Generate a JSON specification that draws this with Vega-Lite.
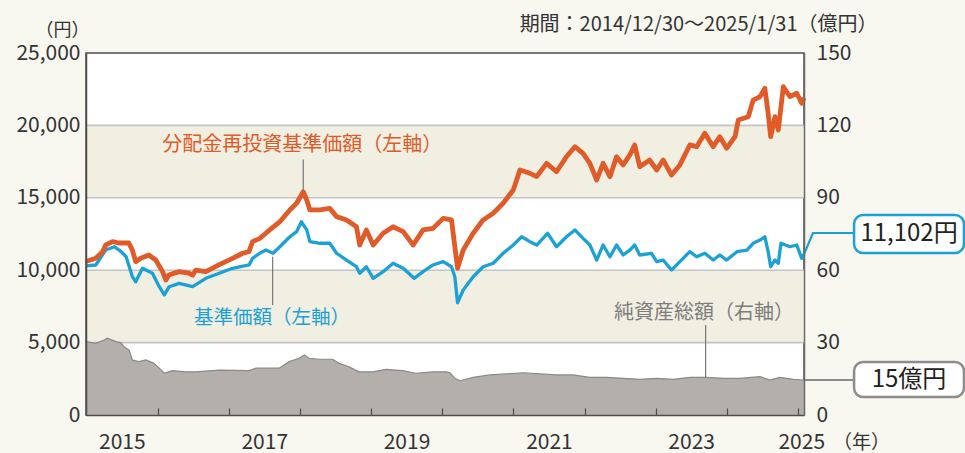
{
  "$schema": "https://vega.github.io/schema/vega-lite/v6.json",
  "width": 718,
  "height": 362,
  "autosize": "none",
  "padding": {"left": 86, "top": 53, "right": 161, "bottom": 38},
  "background": "#f8f7f0",
  "config": {
    "font": "Noto Sans CJK JP",
    "view": {"fill": "#ffffff", "stroke": "#4d4d4d", "strokeWidth": 1.5}
  },
  "datasets": {
    "bands": [{"lo": 5000, "hi": 10000}, {"lo": 15000, "hi": 20000}],
    "grid": [{"v": 5000}, {"v": 10000}, {"v": 15000}, {"v": 20000}],
    "orange": [
      {"date": "2014-12-30", "v": 10600},
      {"date": "2015-02-18", "v": 10820},
      {"date": "2015-03-25", "v": 11280},
      {"date": "2015-04-10", "v": 11740},
      {"date": "2015-05-15", "v": 11970},
      {"date": "2015-06-16", "v": 11880},
      {"date": "2015-08-07", "v": 11880},
      {"date": "2015-08-25", "v": 11390},
      {"date": "2015-09-11", "v": 10590},
      {"date": "2015-10-07", "v": 10820},
      {"date": "2015-11-17", "v": 11050},
      {"date": "2015-12-23", "v": 10700},
      {"date": "2016-01-27", "v": 9900},
      {"date": "2016-02-13", "v": 9320},
      {"date": "2016-02-28", "v": 9670},
      {"date": "2016-04-20", "v": 9900},
      {"date": "2016-06-10", "v": 9800},
      {"date": "2016-06-29", "v": 9650},
      {"date": "2016-07-16", "v": 10010},
      {"date": "2016-09-05", "v": 9900},
      {"date": "2016-11-11", "v": 10360},
      {"date": "2017-01-20", "v": 10820},
      {"date": "2017-03-13", "v": 11170},
      {"date": "2017-04-14", "v": 11280},
      {"date": "2017-05-03", "v": 11970},
      {"date": "2017-06-09", "v": 12200},
      {"date": "2017-07-10", "v": 12550},
      {"date": "2017-07-30", "v": 12780},
      {"date": "2017-09-20", "v": 13350},
      {"date": "2017-11-10", "v": 14160},
      {"date": "2017-12-15", "v": 14620},
      {"date": "2018-01-18", "v": 15420},
      {"date": "2018-02-05", "v": 14850},
      {"date": "2018-02-21", "v": 14160},
      {"date": "2018-04-13", "v": 14160},
      {"date": "2018-06-03", "v": 14270},
      {"date": "2018-07-08", "v": 13700},
      {"date": "2018-08-28", "v": 13470},
      {"date": "2018-10-18", "v": 13000},
      {"date": "2018-11-04", "v": 11740},
      {"date": "2018-12-08", "v": 12780},
      {"date": "2019-01-12", "v": 11740},
      {"date": "2019-03-04", "v": 12550},
      {"date": "2019-04-24", "v": 13000},
      {"date": "2019-06-15", "v": 12660},
      {"date": "2019-08-05", "v": 11740},
      {"date": "2019-09-25", "v": 12780},
      {"date": "2019-11-15", "v": 12890},
      {"date": "2020-01-06", "v": 13580},
      {"date": "2020-02-18", "v": 13470},
      {"date": "2020-03-06", "v": 11620},
      {"date": "2020-03-20", "v": 10130},
      {"date": "2020-04-18", "v": 11390},
      {"date": "2020-06-08", "v": 12550},
      {"date": "2020-07-29", "v": 13470},
      {"date": "2020-09-19", "v": 13930},
      {"date": "2020-11-09", "v": 14620},
      {"date": "2020-12-31", "v": 15540},
      {"date": "2021-02-03", "v": 16920},
      {"date": "2021-03-26", "v": 16690},
      {"date": "2021-04-30", "v": 16460},
      {"date": "2021-06-20", "v": 17380},
      {"date": "2021-08-10", "v": 16800},
      {"date": "2021-09-30", "v": 17840},
      {"date": "2021-11-12", "v": 18530},
      {"date": "2021-12-24", "v": 18070},
      {"date": "2022-01-28", "v": 17380},
      {"date": "2022-03-04", "v": 16230},
      {"date": "2022-04-06", "v": 17380},
      {"date": "2022-05-11", "v": 16460},
      {"date": "2022-06-14", "v": 17840},
      {"date": "2022-07-18", "v": 17270},
      {"date": "2022-08-21", "v": 17960},
      {"date": "2022-09-15", "v": 18650},
      {"date": "2022-10-11", "v": 17150},
      {"date": "2022-12-01", "v": 17610},
      {"date": "2023-01-06", "v": 16920},
      {"date": "2023-02-08", "v": 17610},
      {"date": "2023-03-23", "v": 16570},
      {"date": "2023-05-05", "v": 17270},
      {"date": "2023-06-25", "v": 18650},
      {"date": "2023-07-30", "v": 18530},
      {"date": "2023-09-10", "v": 19450},
      {"date": "2023-10-23", "v": 18530},
      {"date": "2023-11-26", "v": 19220},
      {"date": "2023-12-31", "v": 18420},
      {"date": "2024-02-12", "v": 19220},
      {"date": "2024-02-29", "v": 20370},
      {"date": "2024-04-20", "v": 20600},
      {"date": "2024-05-15", "v": 21750},
      {"date": "2024-06-19", "v": 21980},
      {"date": "2024-07-14", "v": 22560},
      {"date": "2024-07-31", "v": 20840},
      {"date": "2024-08-13", "v": 19220},
      {"date": "2024-09-04", "v": 20600},
      {"date": "2024-09-21", "v": 19680},
      {"date": "2024-10-17", "v": 22670},
      {"date": "2024-11-20", "v": 21980},
      {"date": "2024-12-25", "v": 22220},
      {"date": "2025-01-19", "v": 21530},
      {"date": "2025-01-31", "v": 21900}
    ],
    "blue": [
      {"date": "2014-12-30", "v": 10300},
      {"date": "2015-02-18", "v": 10360},
      {"date": "2015-04-10", "v": 11390},
      {"date": "2015-05-25", "v": 11620},
      {"date": "2015-06-28", "v": 11280},
      {"date": "2015-07-24", "v": 10930},
      {"date": "2015-08-25", "v": 9550},
      {"date": "2015-09-11", "v": 9200},
      {"date": "2015-10-16", "v": 10130},
      {"date": "2015-12-06", "v": 9790},
      {"date": "2016-01-10", "v": 8860},
      {"date": "2016-02-05", "v": 8290},
      {"date": "2016-03-01", "v": 8860},
      {"date": "2016-04-21", "v": 9090},
      {"date": "2016-06-29", "v": 8860},
      {"date": "2016-09-05", "v": 9440},
      {"date": "2016-11-13", "v": 9790},
      {"date": "2017-01-20", "v": 10130},
      {"date": "2017-04-15", "v": 10360},
      {"date": "2017-05-03", "v": 10820},
      {"date": "2017-06-09", "v": 11170},
      {"date": "2017-07-10", "v": 11390},
      {"date": "2017-08-16", "v": 11170},
      {"date": "2017-09-20", "v": 11620},
      {"date": "2017-11-10", "v": 12310},
      {"date": "2017-12-15", "v": 12660},
      {"date": "2018-01-08", "v": 13350},
      {"date": "2018-02-05", "v": 12780},
      {"date": "2018-02-21", "v": 11970},
      {"date": "2018-04-13", "v": 11860},
      {"date": "2018-06-03", "v": 11860},
      {"date": "2018-07-08", "v": 11170},
      {"date": "2018-08-28", "v": 10700},
      {"date": "2018-10-18", "v": 10240},
      {"date": "2018-11-04", "v": 9790},
      {"date": "2018-12-08", "v": 10240},
      {"date": "2019-01-12", "v": 9440},
      {"date": "2019-03-04", "v": 9900},
      {"date": "2019-04-24", "v": 10480},
      {"date": "2019-06-15", "v": 10130},
      {"date": "2019-08-10", "v": 9440},
      {"date": "2019-09-25", "v": 9900},
      {"date": "2019-11-15", "v": 10360},
      {"date": "2020-01-06", "v": 10590},
      {"date": "2020-02-18", "v": 10240},
      {"date": "2020-03-06", "v": 9550},
      {"date": "2020-03-20", "v": 7750},
      {"date": "2020-04-18", "v": 8630},
      {"date": "2020-06-08", "v": 9550},
      {"date": "2020-07-29", "v": 10240},
      {"date": "2020-09-19", "v": 10480},
      {"date": "2020-11-09", "v": 11170},
      {"date": "2020-12-31", "v": 11740},
      {"date": "2021-02-12", "v": 12310},
      {"date": "2021-03-26", "v": 11970},
      {"date": "2021-04-30", "v": 11740},
      {"date": "2021-06-25", "v": 12550},
      {"date": "2021-08-10", "v": 11620},
      {"date": "2021-09-30", "v": 12310},
      {"date": "2021-11-12", "v": 12780},
      {"date": "2021-12-24", "v": 12200},
      {"date": "2022-01-28", "v": 11740},
      {"date": "2022-03-04", "v": 10700},
      {"date": "2022-04-06", "v": 11740},
      {"date": "2022-05-11", "v": 10930},
      {"date": "2022-06-14", "v": 11740},
      {"date": "2022-07-18", "v": 11050},
      {"date": "2022-08-21", "v": 11390},
      {"date": "2022-09-15", "v": 11740},
      {"date": "2022-10-11", "v": 11050},
      {"date": "2022-12-10", "v": 11170},
      {"date": "2023-01-06", "v": 10590},
      {"date": "2023-02-08", "v": 10700},
      {"date": "2023-03-23", "v": 10010},
      {"date": "2023-05-05", "v": 10590},
      {"date": "2023-06-25", "v": 11280},
      {"date": "2023-07-30", "v": 10930},
      {"date": "2023-09-10", "v": 11170},
      {"date": "2023-10-23", "v": 10700},
      {"date": "2023-11-26", "v": 11050},
      {"date": "2023-12-31", "v": 10700},
      {"date": "2024-02-22", "v": 11280},
      {"date": "2024-04-13", "v": 11390},
      {"date": "2024-05-15", "v": 11860},
      {"date": "2024-06-19", "v": 12080},
      {"date": "2024-07-14", "v": 12310},
      {"date": "2024-07-31", "v": 11280},
      {"date": "2024-08-13", "v": 10240},
      {"date": "2024-09-04", "v": 10700},
      {"date": "2024-09-21", "v": 10480},
      {"date": "2024-10-05", "v": 11860},
      {"date": "2024-11-20", "v": 11620},
      {"date": "2024-12-25", "v": 11740},
      {"date": "2025-01-19", "v": 10820},
      {"date": "2025-01-31", "v": 11102}
    ],
    "aum": [
      {"date": "2014-12-30", "v": 30.4},
      {"date": "2015-02-18", "v": 29.7},
      {"date": "2015-04-02", "v": 31.1},
      {"date": "2015-04-19", "v": 31.8},
      {"date": "2015-06-01", "v": 30.4},
      {"date": "2015-06-26", "v": 30.0},
      {"date": "2015-07-13", "v": 28.3},
      {"date": "2015-08-08", "v": 26.9},
      {"date": "2015-08-25", "v": 22.8},
      {"date": "2015-09-28", "v": 22.1},
      {"date": "2015-11-02", "v": 22.8},
      {"date": "2015-12-14", "v": 21.4},
      {"date": "2016-01-10", "v": 19.4},
      {"date": "2016-02-05", "v": 17.3},
      {"date": "2016-03-18", "v": 18.4},
      {"date": "2016-05-25", "v": 17.9},
      {"date": "2016-07-16", "v": 17.9},
      {"date": "2016-11-13", "v": 18.6},
      {"date": "2017-04-15", "v": 18.4},
      {"date": "2017-05-20", "v": 19.4},
      {"date": "2017-09-16", "v": 19.4},
      {"date": "2017-11-07", "v": 22.1},
      {"date": "2017-12-28", "v": 23.5},
      {"date": "2018-01-23", "v": 24.9},
      {"date": "2018-02-17", "v": 23.5},
      {"date": "2018-04-10", "v": 23.1},
      {"date": "2018-06-17", "v": 23.1},
      {"date": "2018-07-21", "v": 21.4},
      {"date": "2018-09-10", "v": 20.0},
      {"date": "2018-10-31", "v": 17.9},
      {"date": "2019-01-09", "v": 17.9},
      {"date": "2019-03-18", "v": 18.9},
      {"date": "2019-06-12", "v": 18.4},
      {"date": "2019-08-19", "v": 17.3},
      {"date": "2019-11-13", "v": 17.9},
      {"date": "2020-01-20", "v": 17.9},
      {"date": "2020-02-10", "v": 17.5},
      {"date": "2020-03-06", "v": 15.2},
      {"date": "2020-04-01", "v": 14.2},
      {"date": "2020-06-08", "v": 15.6},
      {"date": "2020-09-02", "v": 16.6},
      {"date": "2020-11-26", "v": 17.0},
      {"date": "2021-02-20", "v": 17.5},
      {"date": "2021-05-16", "v": 17.0},
      {"date": "2021-08-10", "v": 16.6},
      {"date": "2021-11-02", "v": 16.6},
      {"date": "2022-01-28", "v": 15.6},
      {"date": "2022-04-24", "v": 15.6},
      {"date": "2022-07-18", "v": 15.2},
      {"date": "2022-10-11", "v": 14.8},
      {"date": "2023-01-06", "v": 15.2},
      {"date": "2023-04-01", "v": 14.8},
      {"date": "2023-06-25", "v": 15.6},
      {"date": "2023-09-18", "v": 15.6},
      {"date": "2023-12-13", "v": 15.2},
      {"date": "2024-03-08", "v": 15.2},
      {"date": "2024-06-19", "v": 15.9},
      {"date": "2024-08-09", "v": 14.5},
      {"date": "2024-09-29", "v": 15.6},
      {"date": "2024-12-07", "v": 14.8},
      {"date": "2025-01-27", "v": 14.5},
      {"date": "2025-01-31", "v": 14.8}
    ],
    "annAum": [{"date": "2023-09-06", "v": 42.3, "label": "純資産総額（右軸）"}],
    "leadAum": [{"date": "2023-09-14", "v": 37.3, "v2": 15.7}],
    "boxAum": [{"date": "2025-10-15", "date2": "2027-05-02", "v": 7.5, "v2": 22.0}],
    "linkAum": [{"date": "2025-01-31", "date2": "2025-10-15", "v": 14.5}],
    "calloutAum": [{"date": "2026-07-24", "v": 14.7, "label": "15億円"}],
    "annOrange": [{"date": "2018-01-13", "v": 18650, "label": "分配金再投資基準価額（左軸）"}],
    "leadOrange": [{"date": "2018-01-18", "v": 17650, "v2": 15500}],
    "annBlue": [{"date": "2017-08-11", "v": 6700, "label": "基準価額（左軸）"}],
    "leadBlue": [{"date": "2017-08-14", "v": 10930, "v2": 7600}],
    "linkBlue": [
      {"date": "2025-01-31", "v": 11102},
      {"date": "2025-03-18", "v": 12570},
      {"date": "2025-10-15", "v": 12570}
    ],
    "boxBlue": [{"date": "2025-10-15", "date2": "2027-05-02", "v": 11190, "v2": 13810}],
    "calloutBlue": [{"date": "2026-07-24", "v": 12500, "label": "11,102円"}]
  },
  "layer": [
    {
      "layer": [
        {
          "data": {"name": "bands"},
          "mark": {"type": "rect", "color": "#f1eee2"},
          "encoding": {
            "y": {"field": "lo", "type": "quantitative", "scale": {"domain": [0, 25000], "nice": false}, "axis": null},
            "y2": {"field": "hi"}
          }
        },
        {
          "data": {"name": "grid"},
          "mark": {"type": "rule", "color": "#c4c4c4", "strokeWidth": 1.6},
          "encoding": {
            "y": {"field": "v", "type": "quantitative", "scale": {"domain": [0, 25000], "nice": false}, "axis": null}
          }
        }
      ]
    },
    {
      "encoding": {
        "x": {
          "field": "date",
          "type": "temporal",
          "scale": {"domain": [{"year": 2014, "month": 12, "date": 30}, {"year": 2025, "month": 1, "date": 31}], "nice": false},
          "axis": {
            "orient": "bottom",
            "values": [
              {"year": 2015, "month": 7, "date": 2},
              {"year": 2017, "month": 7, "date": 2},
              {"year": 2019, "month": 7, "date": 2},
              {"year": 2021, "month": 7, "date": 2},
              {"year": 2023, "month": 7, "date": 2},
              {"year": 2025, "month": 1, "date": 17}
            ],
            "format": "%Y",
            "ticks": false,
            "domain": false,
            "grid": false,
            "labelFlush": false,
            "labelOverlap": false,
            "labelFontSize": 21,
            "labelColor": "#333333",
            "labelPadding": 16,
            "title": "（年）",
            "titleX": 775,
            "titleY": 27,
            "titleAlign": "center",
            "titleBaseline": "middle",
            "titleFontSize": 19,
            "titleFontWeight": "normal",
            "titleColor": "#333333"
          }
        },
        "y": {
          "field": "v",
          "type": "quantitative",
          "scale": {"domain": [0, 150], "nice": false},
          "axis": {
            "orient": "right",
            "values": [0, 30, 60, 90, 120, 150],
            "ticks": false,
            "domain": true,
            "domainColor": "#6a6a6a",
            "domainWidth": 1.5,
            "grid": false,
            "labelFontSize": 21,
            "labelColor": "#333333",
            "labelPadding": 12,
            "title": "期間：2014/12/30～2025/1/31（億円）",
            "titleAngle": 0,
            "titleX": 73,
            "titleY": -29,
            "titleAlign": "right",
            "titleBaseline": "middle",
            "titleFontSize": 20,
            "titleFontWeight": "normal",
            "titleColor": "#333333",
            "zindex": 1
          }
        }
      },
      "layer": [
        {
          "data": {"name": "aum"},
          "mark": {"type": "area", "color": "#b3afaa", "opacity": 1, "line": {"color": "#8d8883", "strokeWidth": 1.2}}
        },
        {
          "data": {"name": "annAum"},
          "mark": {"type": "text", "color": "#7d7d7d", "fontSize": 20, "align": "center", "baseline": "middle"},
          "encoding": {"text": {"field": "label"}}
        },
        {
          "data": {"name": "leadAum"},
          "mark": {"type": "rule", "color": "#777777", "strokeWidth": 1.2},
          "encoding": {"y2": {"field": "v2"}}
        },
        {
          "data": {"name": "linkAum"},
          "mark": {"type": "rule", "color": "#8c8c8c", "strokeWidth": 2},
          "encoding": {"x2": {"field": "date2"}}
        },
        {
          "data": {"name": "boxAum"},
          "mark": {"type": "rect", "fill": "#ffffff", "stroke": "#8c8c8c", "strokeWidth": 2.5, "cornerRadius": 9},
          "encoding": {"x2": {"field": "date2"}, "y2": {"field": "v2"}}
        },
        {
          "data": {"name": "calloutAum"},
          "mark": {"type": "text", "color": "#222222", "fontSize": 24, "align": "center", "baseline": "middle"},
          "encoding": {"text": {"field": "label"}}
        }
      ]
    },
    {
      "encoding": {
        "x": {
          "field": "date",
          "type": "temporal",
          "scale": {"domain": [{"year": 2014, "month": 12, "date": 30}, {"year": 2025, "month": 1, "date": 31}], "nice": false},
          "axis": {
            "orient": "bottom",
            "values": [
              {"year": 2016, "month": 1, "date": 1},
              {"year": 2017, "month": 1, "date": 1},
              {"year": 2018, "month": 1, "date": 1},
              {"year": 2019, "month": 1, "date": 1},
              {"year": 2020, "month": 1, "date": 1},
              {"year": 2021, "month": 1, "date": 1},
              {"year": 2022, "month": 1, "date": 1},
              {"year": 2023, "month": 1, "date": 1},
              {"year": 2024, "month": 1, "date": 1},
              {"year": 2025, "month": 1, "date": 1}
            ],
            "labels": false,
            "ticks": true,
            "tickSize": -7,
            "tickColor": "#4d4d4d",
            "tickWidth": 1.2,
            "domain": true,
            "domainColor": "#4d4d4d",
            "domainWidth": 1.5,
            "grid": false,
            "title": null,
            "zindex": 1
          }
        },
        "y": {
          "field": "v",
          "type": "quantitative",
          "scale": {"domain": [0, 25000], "nice": false},
          "axis": {
            "orient": "left",
            "values": [0, 5000, 10000, 15000, 20000, 25000],
            "format": ",d",
            "ticks": false,
            "domain": true,
            "domainColor": "#4d4d4d",
            "domainWidth": 1.5,
            "grid": false,
            "labelFontSize": 21,
            "labelColor": "#333333",
            "labelPadding": 6,
            "title": "（円）",
            "titleAngle": 0,
            "titleX": -24,
            "titleY": -23,
            "titleAlign": "center",
            "titleBaseline": "middle",
            "titleFontSize": 18,
            "titleFontWeight": "normal",
            "titleColor": "#333333",
            "zindex": 1
          }
        }
      },
      "layer": [
        {
          "data": {"name": "blue"},
          "mark": {"type": "line", "color": "#1ba1d6", "strokeWidth": 3.3, "strokeJoin": "round"}
        },
        {
          "data": {"name": "orange"},
          "mark": {"type": "line", "color": "#e15b29", "strokeWidth": 4.8, "strokeJoin": "round"}
        },
        {
          "data": {"name": "annOrange"},
          "mark": {"type": "text", "color": "#e15b29", "fontSize": 20, "align": "center", "baseline": "middle"},
          "encoding": {"text": {"field": "label"}}
        },
        {
          "data": {"name": "leadOrange"},
          "mark": {"type": "rule", "color": "#777777", "strokeWidth": 1.2},
          "encoding": {"y2": {"field": "v2"}}
        },
        {
          "data": {"name": "annBlue"},
          "mark": {"type": "text", "color": "#1ba1d6", "fontSize": 19.5, "align": "center", "baseline": "middle"},
          "encoding": {"text": {"field": "label"}}
        },
        {
          "data": {"name": "leadBlue"},
          "mark": {"type": "rule", "color": "#777777", "strokeWidth": 1.2},
          "encoding": {"y2": {"field": "v2"}}
        },
        {
          "data": {"name": "linkBlue"},
          "mark": {"type": "line", "color": "#1ba1d6", "strokeWidth": 2.2}
        },
        {
          "data": {"name": "boxBlue"},
          "mark": {"type": "rect", "fill": "#ffffff", "stroke": "#1ba1d6", "strokeWidth": 2.5, "cornerRadius": 9},
          "encoding": {"x2": {"field": "date2"}, "y2": {"field": "v2"}}
        },
        {
          "data": {"name": "calloutBlue"},
          "mark": {"type": "text", "color": "#222222", "fontSize": 24, "align": "center", "baseline": "middle"},
          "encoding": {"text": {"field": "label"}}
        }
      ]
    }
  ],
  "resolve": {
    "scale": {"y": "independent"},
    "axis": {"x": "independent", "y": "independent"}
  }
}
